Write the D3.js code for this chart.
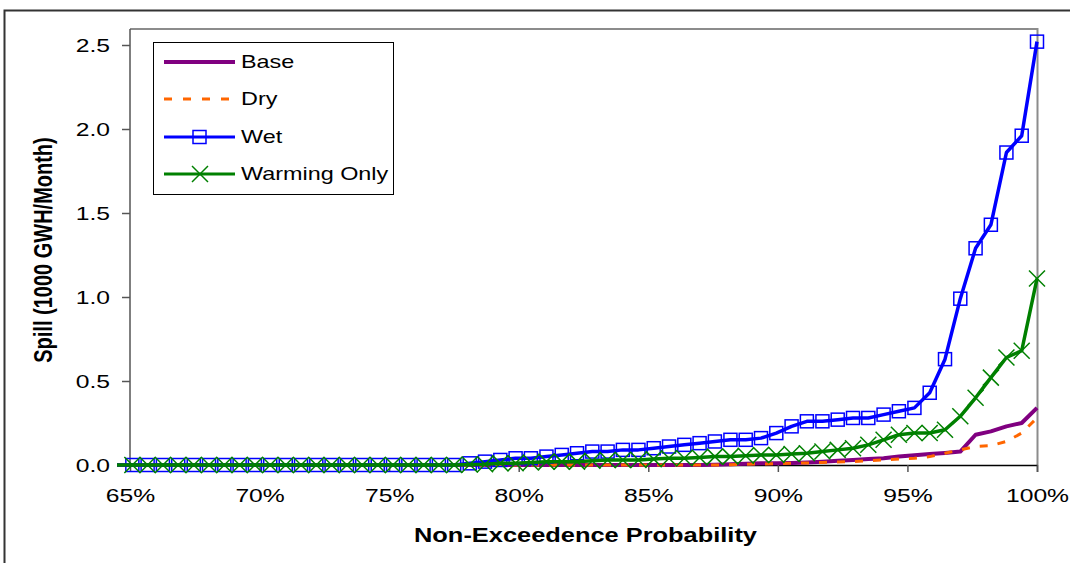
<!DOCTYPE html>
<html>
<head>
<meta charset="utf-8">
<script src="https://cdn.jsdelivr.net/npm/d3@7"></script>
<style>
  body { margin: 0; background: #fff; }
  svg { display: block; font-family: "Liberation Sans", Arial, sans-serif; }
</style>
</head>
<body>
<svg class="chart"></svg>
<script>
// non-exceedence probability (%) of each point
var probs = [64.50, 65.09, 65.68, 66.27, 66.86, 67.46, 68.05, 68.64, 69.23, 69.82,
  70.41, 71.01, 71.60, 72.19, 72.78, 73.37, 73.96, 74.56, 75.15, 75.74,
  76.33, 76.92, 77.51, 78.11, 78.70, 79.29, 79.88, 80.47, 81.07, 81.66,
  82.25, 82.84, 83.43, 84.02, 84.62, 85.21, 85.80, 86.39, 86.98, 87.57,
  88.17, 88.76, 89.35, 89.94, 90.53, 91.12, 91.72, 92.31, 92.90, 93.49,
  94.08, 94.67, 95.27, 95.86, 96.45, 97.04, 97.63, 98.22, 98.82, 99.41, 100.00];

var base = [0,0,0,0,0,0,0,0,0,0, 0,0,0,0,0,0,0,0,0,0, 0,0,0,0,0,0,0,0,0,0,
  0,0,0,0,0,0,0,0,0,
  0.002,0.005,0.007,0.01,0.01,0.012,0.015,0.02,0.025,0.03,
  0.035,0.04,0.05,0.058,0.065,0.072,0.08,0.18,0.20,0.23,
  0.25,0.34];

var dry = [0,0,0,0,0,0,0,0,0,0, 0,0,0,0,0,0,0,0,0,0, 0,0,0,0,0,0,0,0,0,0,
  0,0,0,0,0,0,0,0,0,0,
  0.002,0.004,0.006,0.008,0.01,0.012,0.015,0.018,0.02,0.025,
  0.03,0.035,0.04,0.05,0.07,0.09,0.11,0.115,0.14,0.19,
  0.28];

var wet = [0,0,0,0,0,0,0,0,0,0, 0,0,0,0,0,0,0,0,0,0, 0,0,0,
  0.01,0.02,0.03,0.04,0.04,0.05,0.06,0.07,0.08,0.08,
  0.09,0.09,0.10,0.11,0.12,0.13,0.14,0.15,0.15,0.16,
  0.19,0.23,0.26,0.26,0.27,0.28,0.28,0.30,0.32,0.34,
  0.43,0.63,0.99,1.29,1.43,1.86,1.96,2.52];

var warming = [0,0,0,0,0,0,0,0,0,0, 0,0,0,0,0,0,0,0,0,0, 0,0,0,
  0.003,0.005,0.01,0.01,0.015,0.02,0.02,0.02,0.025,0.03,
  0.03,0.03,0.035,0.04,0.04,0.045,0.05,0.05,0.055,0.06,
  0.06,0.065,0.07,0.08,0.09,0.10,0.12,0.15,0.18,0.19,
  0.19,0.21,0.29,0.40,0.52,0.64,0.68,1.11];

var seriesNames = ["Base", "Dry", "Wet", "Warming Only"];
var xTicks = [65, 70, 75, 80, 85, 90, 95, 100];
var yTicks = [0, 0.5, 1.0, 1.5, 2.0, 2.5];

var frameWidth = 1070, frameHeight = 563;
var left = 130, right = 1037, plotTop = 29, axisTop = 45, bottom = 465;
var stretch = "scale(1.3,1)"; // the original's lettering is wide

var svg = d3.select(".chart").attr("width", frameWidth).attr("height", frameHeight);

// outer border (only top and left visible)
svg.append("path")
  .attr("d", "M4.5,563 L4.5,10.5 L1070,10.5")
  .attr("fill", "none").attr("stroke", "#333").attr("stroke-width", 2);

var xScale = d3.scaleLinear().domain([65, 100]).range([left, right]);
var yScale = d3.scaleLinear().domain([0, 2.5]).range([bottom, axisTop]);

// plot area frame
svg.append("path")
  .attr("d", "M" + left + "," + plotTop + " L" + (right + 0.5) + "," + plotTop + " L" + (right + 0.5) + "," + (bottom + 7))
  .attr("fill", "none").attr("stroke", "#8c8c8c").attr("stroke-width", 2);

var yAxis = svg.append("g")
  .attr("transform", "translate(" + left + ",0)")
  .call(d3.axisLeft(yScale).tickValues(yTicks).tickFormat(d3.format(".1f")).tickSize(8).tickSizeOuter(0));
yAxis.select(".domain").attr("d", "M0," + plotTop + "V" + bottom);
yAxis.selectAll("path, line").attr("stroke", "#555").attr("stroke-width", 1.5);
yAxis.selectAll("text")
  .attr("x", 0).attr("dy", "0.35em")
  .attr("transform", "translate(-20,0) " + stretch)
  .attr("font-size", 19).attr("fill", "#000")
  .attr("font-family", "Liberation Sans, Arial, sans-serif");

var xAxis = svg.append("g")
  .attr("transform", "translate(0," + bottom + ")")
  .call(d3.axisBottom(xScale).tickValues(xTicks).tickFormat(function(d) { return d + "%"; }).tickSize(7).tickSizeOuter(0));
xAxis.selectAll("path, line").attr("stroke", "#000").attr("stroke-width", 1.5);
xAxis.selectAll("line").attr("stroke", "#555");
xAxis.selectAll("text")
  .attr("y", 37).attr("dy", 0)
  .attr("transform", stretch)
  .attr("font-size", 19).attr("fill", "#000")
  .attr("font-family", "Liberation Sans, Arial, sans-serif");

var rows = probs.map(function(p, i) {
  return { p: p, base: base[i], dry: dry[i], wet: wet[i], warming: warming[i] };
});

function lineFor(key) {
  return d3.line().x(function(d) { return xScale(d.p); }).y(function(d) { return yScale(d[key]); });
}

var plot = svg.append("g");
plot.append("path").datum(rows).attr("d", lineFor("base"))
  .attr("fill", "none").attr("stroke", "#800080").attr("stroke-width", 4).attr("stroke-linejoin", "round");
plot.append("path").datum(rows).attr("d", lineFor("dry"))
  .attr("fill", "none").attr("stroke", "#ff6600").attr("stroke-width", 3).attr("stroke-dasharray", "8,10");
plot.append("path").datum(rows).attr("d", lineFor("wet"))
  .attr("fill", "none").attr("stroke", "#0000ff").attr("stroke-width", 3.5).attr("stroke-linejoin", "round");

var shown = rows.filter(function(d) { return d.p >= 65; });
plot.selectAll("rect.wet").data(shown).enter().append("rect")
  .attr("class", "wet")
  .attr("x", function(d) { return xScale(d.p) - 6.5; })
  .attr("y", function(d) { return yScale(d.wet) - 6.5; })
  .attr("width", 13).attr("height", 13)
  .attr("fill", "none").attr("stroke", "#0000ff").attr("stroke-width", 1.5);

plot.append("path").datum(rows).attr("d", lineFor("warming"))
  .attr("fill", "none").attr("stroke", "#008000").attr("stroke-width", 3.5).attr("stroke-linejoin", "round");
plot.selectAll("path.xm").data(shown).enter().append("path")
  .attr("class", "xm")
  .attr("transform", function(d) { return "translate(" + xScale(d.p) + "," + yScale(d.warming) + ")"; })
  .attr("d", "M-8,-8L8,8M-8,8L8,-8")
  .attr("fill", "none").attr("stroke", "#008000").attr("stroke-width", 1.5);

// legend
var lg = svg.append("g").attr("transform", "translate(153,42)");
lg.append("rect").attr("x", 0.5).attr("y", 0.5).attr("width", 240).attr("height", 152)
  .attr("fill", "#fff").attr("stroke", "#000").attr("stroke-width", 1);
var legendY = [20, 57, 95, 132];
seriesNames.forEach(function(name, i) {
  var g = lg.append("g").attr("transform", "translate(0," + legendY[i] + ")");
  var ln = g.append("line").attr("x1", 11).attr("x2", 82).attr("y1", 0).attr("y2", 0);
  if (i === 0) ln.attr("stroke", "#800080").attr("stroke-width", 4);
  if (i === 1) ln.attr("stroke", "#ff6600").attr("stroke-width", 3).attr("stroke-dasharray", "8,11");
  if (i === 2) {
    ln.attr("stroke", "#0000ff").attr("stroke-width", 3);
    g.append("rect").attr("x", 40).attr("y", -6.5).attr("width", 13).attr("height", 13)
      .attr("fill", "none").attr("stroke", "#0000ff").attr("stroke-width", 1.5);
  }
  if (i === 3) {
    ln.attr("stroke", "#008000").attr("stroke-width", 3);
    g.append("path").attr("transform", "translate(47,0)").attr("d", "M-8,-8L8,8M-8,8L8,-8")
      .attr("stroke", "#008000").attr("stroke-width", 1.5);
  }
  g.append("text").attr("transform", "translate(88,0) " + stretch).attr("dy", "0.36em")
    .attr("font-size", 18).text(name);
});

// axis titles
svg.append("text")
  .attr("transform", "translate(" + ((left + right) / 2 + 2) + ",542) scale(1.27,1)")
  .attr("text-anchor", "middle").attr("font-size", 20).attr("font-weight", "bold")
  .text("Non-Exceedence Probability");

svg.append("text")
  .attr("transform", "translate(52," + ((bottom + plotTop) / 2 + 3) + ") " + stretch + " rotate(-90)")
  .attr("text-anchor", "middle").attr("font-size", 20).attr("font-weight", "bold")
  .text("Spill (1000 GWH/Month)");
</script>
</body>
</html>
